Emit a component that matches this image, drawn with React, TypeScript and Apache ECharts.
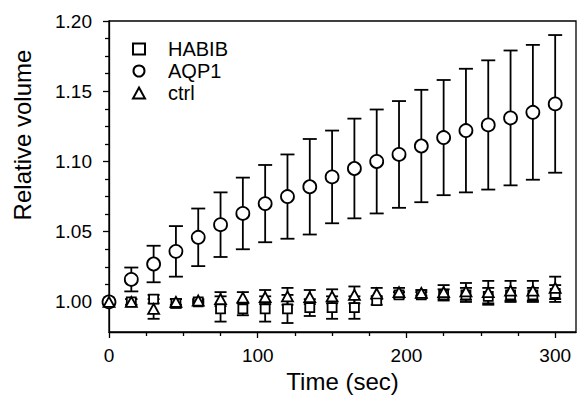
import React, { useEffect, useRef } from "react";
import * as echarts from "echarts";

const times = [0, 15, 30, 45, 60, 75, 90, 105, 120, 135, 150, 165, 180, 195, 210, 225, 240, 255, 270, 285, 300];

const habibMean = [1.000, 1.000, 1.002, 0.999, 1.000, 0.995, 0.995, 0.995, 0.995, 0.996, 0.996, 0.996, 1.001, 1.005, 1.005, 1.005, 1.005, 1.004, 1.005, 1.005, 1.006];
const habibErr = [0, 0.002, 0.003, 0.003, 0.001, 0.009, 0.0045, 0.009, 0.010, 0.006, 0.008, 0.008, 0.003, 0.002, 0.002, 0.004, 0.005, 0.006, 0.005, 0.005, 0.006];

const aqp1Mean = [1.000, 1.016, 1.027, 1.036, 1.046, 1.055, 1.063, 1.070, 1.075, 1.082, 1.089, 1.095, 1.100, 1.105, 1.111, 1.117, 1.122, 1.126, 1.131, 1.135, 1.141];
const aqp1Err = [0, 0.0085, 0.013, 0.018, 0.0205, 0.023, 0.0255, 0.0275, 0.030, 0.034, 0.033, 0.0355, 0.037, 0.038, 0.040, 0.041, 0.044, 0.046, 0.048, 0.048, 0.049];

const ctrlMean = [1.000, 1.000, 0.995, 1.000, 1.001, 1.002, 1.003, 1.0035, 1.004, 1.0035, 1.004, 1.005, 1.006, 1.007, 1.0065, 1.007, 1.0075, 1.007, 1.008, 1.008, 1.010];
const ctrlErr = [0, 0.002, 0.007, 0.002, 0.001, 0.005, 0.004, 0.005, 0.006, 0.005, 0.005, 0.006, 0.004, 0.003, 0.002, 0.005, 0.006, 0.008, 0.007, 0.007, 0.008];

const xMajorTicks = [0, 100, 200, 300];
const xMinorTicks = [25, 50, 75, 125, 150, 175, 225, 250, 275];
const yMajorTicks = [1.0, 1.05, 1.1, 1.15, 1.2];
const yMinorTicks = [1.0125, 1.025, 1.0375, 1.0625, 1.075, 1.0875, 1.1125, 1.125, 1.1375, 1.1625, 1.175, 1.1875];

const FONT = "'Liberation Sans', Arial, Helvetica, sans-serif";

function errorSeries(name: string, mean: number[], err: number[], cap: number) {
  return {
    type: "custom",
    name,
    z: 2,
    data: times.map((t, i) => [t, mean[i], err[i]]),
    encode: { x: 0, y: 1 },
    renderItem: (params: any, api: any) => {
      const x = api.value(0);
      const m = api.value(1);
      const e = api.value(2);
      if (!e) return { type: "group", children: [] };
      const top = api.coord([x, m + e]);
      const bot = api.coord([x, m - e]);
      const hw = cap / 2;
      const st = { stroke: "#000", lineWidth: 1.8 };
      return {
        type: "group",
        children: [
          { type: "line", shape: { x1: top[0], y1: top[1], x2: bot[0], y2: bot[1] }, style: st },
          { type: "line", shape: { x1: top[0] - hw, y1: top[1], x2: top[0] + hw, y2: top[1] }, style: st },
          { type: "line", shape: { x1: bot[0] - hw, y1: bot[1], x2: bot[0] + hw, y2: bot[1] }, style: st },
        ],
      };
    },
  };
}

function markerSeries(name: string, mean: number[], symbol: string, size: number | number[]) {
  return {
    type: "scatter",
    name,
    z: 3,
    symbol,
    symbolSize: size,
    data: times.map((t, i) => [t, mean[i]]),
    itemStyle: { color: "#fff", borderColor: "#000", borderWidth: 1.8, opacity: 1 },
  };
}

export default function App() {
  const ref = useRef<HTMLDivElement>(null);
  useEffect(() => {
    if (!ref.current) return;
    const chart = echarts.init(ref.current, undefined, { renderer: "svg" });
    const axisLine = { show: true, lineStyle: { color: "#000", width: 1.3 } };
    chart.setOption({
      animation: false,
      backgroundColor: "#fff",
      grid: {
        left: 109,
        right: 3,
        top: 21,
        bottom: 74,
        show: true,
        borderColor: "#000",
        borderWidth: 1.3,
        backgroundColor: "transparent",
      },
      legend: {
        orient: "vertical",
        left: 127,
        top: 34,
        itemWidth: 12,
        itemHeight: 11,
        itemGap: 2,
        data: ["HABIB", "AQP1", "ctrl"],
        textStyle: { fontSize: 20, color: "#000", fontFamily: FONT, padding: [0, 0, 0, 18] },
        selectedMode: false,
      },
      xAxis: [
        {
          type: "value",
          min: 0,
          max: 314,
          name: "Time (sec)",
          nameLocation: "middle",
          nameGap: 25,
          nameTextStyle: { fontSize: 24, color: "#000", fontFamily: FONT },
          axisLine,
          splitLine: { show: false },
          axisTick: { show: true, customValues: xMajorTicks, length: 6, lineStyle: { color: "#000", width: 1.3 } },
          axisLabel: { customValues: xMajorTicks, fontSize: 19, color: "#000", fontFamily: FONT, margin: 14 },
        },
        {
          type: "value",
          min: 0,
          max: 314,
          position: "bottom",
          axisLine: { show: false },
          splitLine: { show: false },
          axisTick: { show: true, customValues: xMinorTicks, length: 4, lineStyle: { color: "#000", width: 1.3 } },
          axisLabel: { show: false },
        },
      ],
      yAxis: [
        {
          type: "value",
          min: 0.9786,
          max: 1.2,
          axisLine,
          splitLine: { show: false },
          axisTick: { show: true, customValues: yMajorTicks, length: 6, lineStyle: { color: "#000", width: 1.3 } },
          axisLabel: {
            customValues: yMajorTicks,
            fontSize: 19,
            color: "#000",
            fontFamily: FONT,
            margin: 17,
            formatter: (v: number) => v.toFixed(2),
          },
        },
        {
          type: "value",
          min: 0.9786,
          max: 1.2,
          position: "left",
          axisLine: { show: false },
          splitLine: { show: false },
          axisTick: { show: true, customValues: yMinorTicks, length: 4, lineStyle: { color: "#000", width: 1.3 } },
          axisLabel: { show: false },
        },
      ],
      graphic: [
        {
          type: "text",
          x: 22,
          y: 135,
          rotation: Math.PI / 2,
          style: {
            text: "Relative volume",
            fontSize: 24,
            fontFamily: FONT,
            fill: "#000",
            align: "center",
            verticalAlign: "middle",
          },
        },
      ],
      series: [
        errorSeries("HABIB err", habibMean, habibErr, 12),
        errorSeries("ctrl err", ctrlMean, ctrlErr, 12),
        errorSeries("AQP1 err", aqp1Mean, aqp1Err, 14),
        markerSeries("HABIB", habibMean, "rect", 9),
        markerSeries("AQP1", aqp1Mean, "circle", 13),
        markerSeries("ctrl", ctrlMean, "triangle", [11, 10]),
      ],
    });
    return () => chart.dispose();
  }, []);
  return (
    <div
      ref={ref}
      style={{ position: "fixed", left: 0, top: 0, width: 579, height: 406 }}
    />
  );
}
